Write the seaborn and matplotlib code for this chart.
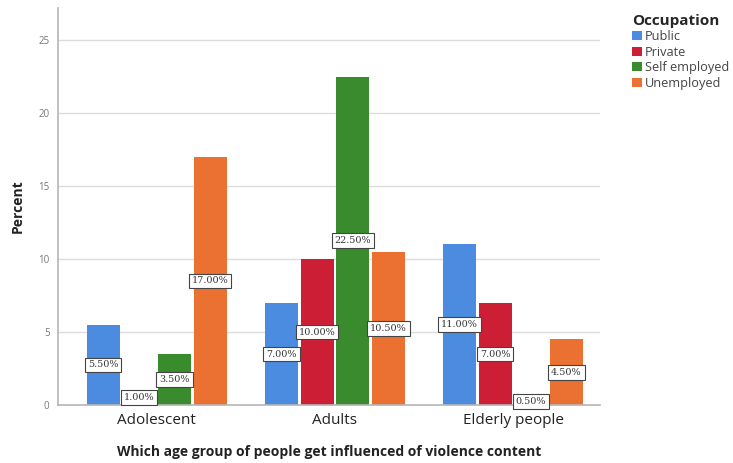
import matplotlib
matplotlib.use("Agg")
import matplotlib.pyplot as plt
import seaborn as sns
import pandas as pd

age_groups = ["Adolescent", "Adults", "Elderly people"]
occupations = ["Public", "Private", "Self employed", "Unemployed"]
public = [5.5, 7.0, 11.0]
private = [1.0, 10.0, 7.0]
self_employed = [3.5, 22.5, 0.5]
unemployed = [17.0, 10.5, 4.5]
colors = ["#4B8BE0", "#CC1F36", "#3A8A2E", "#EB7133"]
y_ticks = [0, 5, 10, 15, 20, 25]

rows = []
for occ, vals in zip(occupations, [public, private, self_employed, unemployed]):
    for grp, v in zip(age_groups, vals):
        rows.append({"group": grp, "Occupation": occ, "Percent": v})
df = pd.DataFrame(rows)

sns.set_style("white")
plt.rcParams["font.family"] = ["Open Sans", "DejaVu Sans"]

fig = plt.figure(figsize=(7.33, 4.63), dpi=100)
ax = fig.add_axes([0.079, 0.125, 0.74, 0.858])

ax.set_axisbelow(True)
for t in y_ticks[1:]:
    ax.axhline(t, color="#dcdcdc", lw=1.0, zorder=0)

sns.barplot(data=df, x="group", y="Percent", hue="Occupation",
            order=age_groups, hue_order=occupations, palette=colors,
            width=0.8, gap=0.07, saturation=1, errorbar=None, ax=ax,
            linewidth=0, legend=True)

for container in ax.containers:
    for bar in container:
        h = bar.get_height()
        ax.text(bar.get_x() + bar.get_width() / 2, h / 2, f"{h:.2f}%",
                ha="center", va="center", fontsize=6.9, color="#333333",
                family="DejaVu Serif", zorder=5,
                bbox=dict(boxstyle="square,pad=0.3", fc="white",
                          ec="#444444", lw=0.8))

ax.set_xlim(-0.555, 2.49)
ax.set_ylim(0, 27.2)
ax.set_yticks(y_ticks)
ax.set_yticklabels([str(t) for t in y_ticks], fontsize=7, color="#777777")
ax.tick_params(axis="x", labelsize=11, colors="#222222", length=0, pad=6)
ax.tick_params(axis="y", length=3, color="#aaaaaa", pad=3)
for s in ["top", "right"]:
    ax.spines[s].set_visible(False)
for s in ["left", "bottom"]:
    ax.spines[s].set_color("#b5b5b5")
    ax.spines[s].set_linewidth(1.2)

ax.set_ylabel("Percent", fontsize=10, fontweight="bold", color="#222222", labelpad=10)
ax.set_xlabel("Which age group of people get influenced of violence content",
              fontsize=10, fontweight="bold", color="#222222", labelpad=12)

leg = ax.legend(title="Occupation", loc="upper left", bbox_to_anchor=(1.045, 1.005),
                frameon=False, fontsize=9.2, handlelength=0.75, handleheight=0.75,
                handletextpad=0.25, labelspacing=0.2, borderaxespad=0.2,
                alignment="left")
leg.get_title().set_fontweight("bold")
leg.get_title().set_fontsize(11)
for t in leg.get_texts():
    t.set_color("#444444")

fig.savefig("out.png", dpi=100)
